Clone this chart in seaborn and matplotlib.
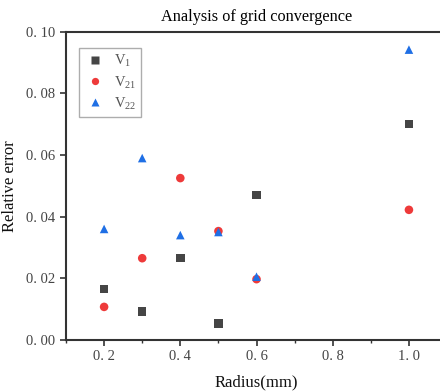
import pandas as pd
import matplotlib
matplotlib.use("Agg")
import matplotlib.pyplot as plt
import seaborn as sns
from matplotlib.ticker import MultipleLocator, FuncFormatter

radius = [0.2, 0.3, 0.4, 0.5, 0.6, 1.0]
v1 = [0.0165, 0.0092, 0.0265, 0.0054, 0.0470, 0.0700]
v21 = [0.0107, 0.0265, 0.0525, 0.0353, 0.0197, 0.0422]
v22 = [0.0360, 0.0590, 0.0340, 0.0350, 0.0205, 0.0942]
series_names = ["V$_{1}$", "V$_{21}$", "V$_{22}$"]

sns.set_theme(style="ticks")
plt.rcParams["font.family"] = ["Liberation Serif", "DejaVu Serif"]
plt.rcParams["mathtext.fontset"] = "custom"
plt.rcParams["mathtext.rm"] = "Liberation Serif"

df = pd.concat([
    pd.DataFrame({"Radius": radius, "Error": vals, "Series": name})
    for name, vals in zip(series_names, [v1, v21, v22])
])

fig = plt.figure(figsize=(4.4, 3.92), dpi=100)
ax = fig.add_axes([0.15, 0.133, 0.866, 0.786])

palette = {series_names[0]: "#454545", series_names[1]: "#ee3a3a", series_names[2]: "#1f6fe5"}
markers = {series_names[0]: "s", series_names[1]: "o", series_names[2]: "^"}
sns.scatterplot(data=df, x="Radius", y="Error", hue="Series", style="Series",
                palette=palette, markers=markers, s=38, edgecolor="none", ax=ax)

ax.set_xlim(0.1, 1.1)
ax.set_ylim(0.0, 0.1)
ax.xaxis.set_major_locator(MultipleLocator(0.2))
ax.xaxis.set_minor_locator(MultipleLocator(0.1))
ax.yaxis.set_major_locator(MultipleLocator(0.02))
ax.xaxis.set_major_formatter(FuncFormatter(lambda v, p: f"{v:.1f}".replace(".", ". ")))
ax.yaxis.set_major_formatter(FuncFormatter(lambda v, p: f"{v:.2f}".replace(".", ". ")))
ax.tick_params(axis="both", which="major", direction="out", length=4, width=1.2,
               labelsize=10.5, colors="#333333", labelcolor="#444444")
ax.tick_params(axis="x", which="minor", direction="out", length=2.5, width=1.0, colors="#333333")
for side in ["left", "bottom", "top", "right"]:
    ax.spines[side].set_linewidth(1.5)
    ax.spines[side].set_color("#333333")

ax.set_xlabel("Radius(mm)", fontsize=12, labelpad=8, color="#111111")
ax.set_ylabel("Relative error", fontsize=12, color="#111111")
ax.yaxis.set_label_coords(-0.125, 0.5)
ax.set_title("Analysis of grid convergence", fontsize=11.7, pad=8, color="#000000")

leg = ax.legend(loc="upper left", bbox_to_anchor=(0.016, 0.972), frameon=True, fancybox=False,
                edgecolor="#999999", fontsize=10.5, handletextpad=0.5, borderpad=0.35,
                labelspacing=0.3, markerscale=0.85, handlelength=1.5)
leg.get_frame().set_linewidth(1.0)
for t in leg.get_texts():
    t.set_color("#555555")

fig.savefig("out.png", dpi=100)
